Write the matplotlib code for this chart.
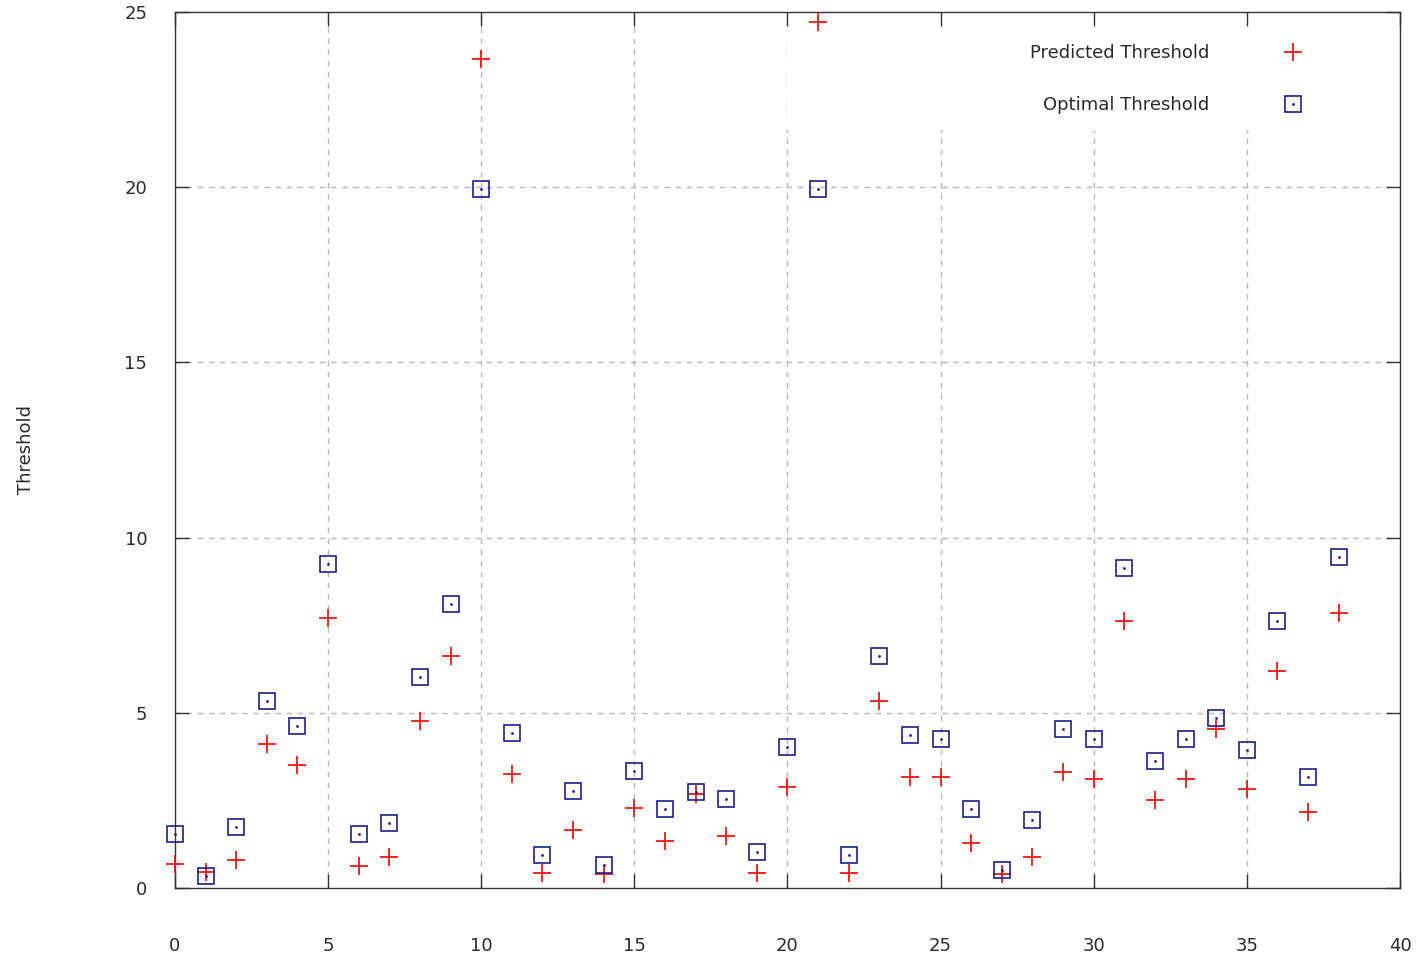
import matplotlib
matplotlib.use('Agg')
import matplotlib.pyplot as plt
from matplotlib.patches import Rectangle
from matplotlib.legend_handler import HandlerTuple
import numpy as np

# ── DONNÉES ──────────────────────────────────────────────────────────────────
sample = np.arange(39)

predicted = [0.68, 0.46, 0.80, 4.11, 3.51, 7.71, 0.63, 0.88, 4.77, 6.62,
             23.66, 3.25, 0.43, 1.66, 0.40, 2.28, 1.34, 2.68, 1.48, 0.43,
             2.88, 24.71, 0.43, 5.34, 3.17, 3.17, 1.28, 0.40, 0.88, 3.31,
             3.11, 7.62, 2.51, 3.11, 4.54, 2.83, 6.19, 2.17, 7.85]

optimal = [1.54, 0.34, 1.74, 5.34, 4.62, 9.25, 1.54, 1.86, 6.02, 8.10,
           19.95, 4.42, 0.94, 2.77, 0.66, 3.34, 2.25, 2.74, 2.54, 1.03,
           4.02, 19.95, 0.94, 6.62, 4.37, 4.25, 2.25, 0.51, 1.94, 4.54,
           4.25, 9.13, 3.62, 4.25, 4.85, 3.94, 7.62, 3.17, 9.45]

x_ticks = [0, 5, 10, 15, 20, 25, 30, 35, 40]
y_ticks = [0, 5, 10, 15, 20, 25]

RED  = '#ff0000'
NAVY = '#1c1c8c'
TXT  = '#2a2a2a'

plt.rcParams['font.family'] = ['DejaVu Sans']

fig = plt.figure(figsize=(14.17, 9.57), dpi=100)
ax = fig.add_axes([0.1235, 0.0721, 0.8645, 0.9154])

ax.set_xlim(0, 40)
ax.set_ylim(0, 25)
ax.set_xticks(x_ticks)
ax.set_yticks(y_ticks)

# grille pointillée
for xv in x_ticks[1:-1]:
    ax.axvline(xv, color='#b8b8b8', lw=1.0, ls=(0, (4, 4)), zorder=0)
for yv in y_ticks[1:-1]:
    ax.axhline(yv, color='#b8b8b8', lw=1.0, ls=(0, (4, 4)), zorder=0)

# zone de la légende (masque la grille)
ax.add_patch(Rectangle((0.4996, 0.865), 0.5004, 0.135, transform=ax.transAxes,
                       facecolor='white', edgecolor='none', zorder=1))

p_pred, = ax.plot(sample, predicted, ls='none', marker='+', ms=13, mew=1.2,
                  color=RED, zorder=3, clip_on=False)
p_opt, = ax.plot(sample, optimal, ls='none', marker='s', ms=11, mew=1.2,
                 mfc='none', mec=NAVY, zorder=3, clip_on=False)
p_dot, = ax.plot(sample, optimal, ls='none', marker='.', ms=2,
                 color=NAVY, zorder=3, clip_on=False)

for s in ax.spines.values():
    s.set_color('#333333')
    s.set_linewidth(1.0)

ax.tick_params(direction='in', length=10, width=1.0, color='#333333',
               top=True, right=True, labelsize=13, labelcolor=TXT)
ax.tick_params(axis='x', pad=35)
ax.tick_params(axis='y', pad=20)

fig.text(0.018, 0.53, 'Threshold', rotation=90, fontsize=13, color=TXT,
         ha='center', va='center')

leg = ax.legend([p_pred, (p_opt, p_dot)], ['Predicted Threshold', 'Optimal Threshold'],
                handler_map={tuple: HandlerTuple(ndivide=1, pad=0)},
                loc='upper right', bbox_to_anchor=(0.927, 0.9635),
                frameon=False, markerfirst=False, fontsize=13,
                borderpad=0, borderaxespad=0, labelspacing=1.9,
                handlelength=2.0, handletextpad=3.6)
for t in leg.get_texts():
    t.set_color(TXT)
    t.set_ha('right')

fig.savefig('out.png', dpi=100)
